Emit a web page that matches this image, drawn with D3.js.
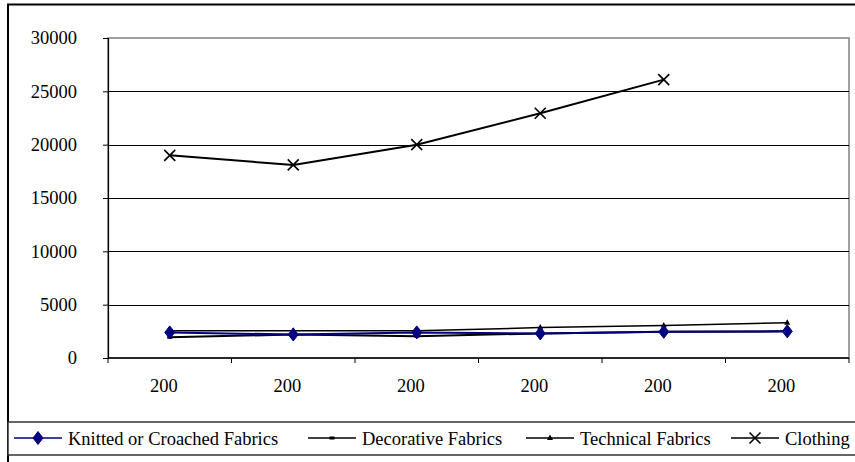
<!DOCTYPE html>
<html>
<head>
<meta charset="utf-8">
<script src="https://cdn.jsdelivr.net/npm/d3@7"></script>
<style>
  html, body { margin: 0; padding: 0; background: #fff; }
  svg { display: block; }
  text { font-family: "Liberation Serif", "Times New Roman", serif; fill: #000; }
</style>
</head>
<body>
<svg id="chart" width="855" height="462"></svg>
<script>
// Category labels along the x axis
const categories = ["200", "200", "200", "200", "200", "200"];

// Series values
const knitted    = [2400, 2200, 2400, 2300, 2450, 2500];
const decorative = [1950, 2200, 2050, 2300, 2450, 2500];
const technical  = [2550, 2550, 2550, 2850, 3050, 3300];
const clothing   = [19000, 18100, 20000, 22950, 26100, null];

// Y axis ticks
const yTicks = [0, 5000, 10000, 15000, 20000, 25000, 30000];

const seriesNames = ["Knitted or Croached Fabrics", "Decorative Fabrics", "Technical Fabrics", "Clothing"];

const svg = d3.select("#chart");
const plot = { left: 108, right: 849, top: 38, bottom: 358 };

const x = d3.scaleBand()
  .domain(d3.range(categories.length))
  .range([plot.left, plot.right])
  .paddingInner(0).paddingOuter(0);
const cx = i => x(i) + x.bandwidth() / 2;

const y = d3.scaleLinear()
  .domain([0, 30000])
  .range([plot.bottom, plot.top]);

// Outer chart frame (left and top edges)
svg.append("path")
  .attr("d", "M8,470 L8,4.5 L870,4.5")
  .attr("fill", "none")
  .attr("stroke", "#000")
  .attr("stroke-width", 2);

// Plot area border
svg.append("rect")
  .attr("x", plot.left).attr("y", y(30000))
  .attr("width", plot.right - plot.left).attr("height", plot.bottom - y(30000))
  .attr("fill", "none").attr("stroke", "#808080").attr("stroke-width", 1.5);

// Horizontal gridlines
svg.append("g").selectAll("line")
  .data(yTicks.filter(d => d > 0 && d < 30000))
  .join("line")
  .attr("x1", plot.left).attr("x2", plot.right)
  .attr("y1", d => Math.round(y(d)) + 0.5).attr("y2", d => Math.round(y(d)) + 0.5)
  .attr("stroke", "#000").attr("stroke-width", 1);

// Y axis
const yAxis = svg.append("g")
  .attr("transform", `translate(${plot.left},0)`)
  .call(d3.axisLeft(y).tickValues(yTicks).tickFormat(d3.format("d"))
    .tickSize(5).tickPadding(26));
yAxis.select(".domain").attr("stroke", "#000").attr("stroke-width", 1.2);
yAxis.selectAll(".tick line").attr("stroke", "#000");
yAxis.selectAll(".tick text")
  .style("font-family", '"Liberation Serif", serif')
  .style("font-size", "18.5px").attr("fill", "#000");

// X axis: line, boundary ticks, and centred labels
const xg = svg.append("g");
xg.append("line")
  .attr("x1", plot.left).attr("x2", plot.right)
  .attr("y1", plot.bottom).attr("y2", plot.bottom)
  .attr("stroke", "#000").attr("stroke-width", 1.5);
const bounds = d3.range(categories.length + 1).map(i => i < categories.length ? x(i) : x(i - 1) + x.bandwidth());
xg.selectAll("line.tk")
  .data(bounds)
  .join("line").attr("class", "tk")
  .attr("x1", d => d).attr("x2", d => d)
  .attr("y1", plot.bottom).attr("y2", plot.bottom + 5)
  .attr("stroke", "#000");
xg.selectAll("text")
  .data(categories)
  .join("text")
  .attr("x", (d, i) => cx(i) - 6)
  .attr("y", 392)
  .attr("text-anchor", "middle")
  .style("font-size", "18.5px")
  .text(d => d);

// Marker shapes
const markers = {
  diamond: (g, color) => g.append("path").attr("d", "M0,-6.5 L5,0 L0,6.5 L-5,0 Z").attr("fill", color).attr("stroke", color).attr("stroke-width", 1),
  dash: (g, color) => g.append("rect").attr("x", -2.5).attr("y", -1.5).attr("width", 5).attr("height", 3).attr("fill", color),
  triangle: (g, color) => g.append("path").attr("d", "M0,-3.5 L3,2 L-3,2 Z").attr("fill", color),
  cross: (g, color) => g.append("path").attr("d", "M-5.5,-5.5 L5.5,5.5 M-5.5,5.5 L5.5,-5.5").attr("stroke", color).attr("stroke-width", 1.6).attr("fill", "none")
};

const series = [
  { name: seriesNames[0], values: knitted, color: "#000080", width: 2, marker: "diamond" },
  { name: seriesNames[1], values: decorative, color: "#000", width: 2, marker: "dash" },
  { name: seriesNames[2], values: technical, color: "#000", width: 1.5, marker: "triangle" },
  { name: seriesNames[3], values: clothing, color: "#000", width: 2, marker: "cross" }
];

const line = d3.line()
  .defined(d => d != null)
  .x((d, i) => cx(i))
  .y(d => y(d));

// Draw lines from bottom series upward so the navy series sits visibly on top of the others
const drawOrder = [3, 2, 1, 0];
drawOrder.forEach(k => {
  const s = series[k];
  const g = svg.append("g");
  g.append("path")
    .attr("d", line(s.values))
    .attr("fill", "none")
    .attr("stroke", s.color)
    .attr("stroke-width", s.width)
    .attr("stroke-linejoin", "round");
  s.values.forEach((v, i) => {
    if (v == null) return;
    const mg = g.append("g").attr("transform", `translate(${cx(i)},${y(v)})`);
    markers[s.marker](mg, s.color);
  });
});

// Legend
const legend = svg.append("g");
legend.append("rect")
  .attr("x", 8).attr("y", 422).attr("width", 900).attr("height", 33)
  .attr("fill", "#fff").attr("stroke", "#333").attr("stroke-width", 1.5);
const legendX = [14, 308, 526, 731];
series.forEach((s, k) => {
  const gx = legendX[k];
  const gy = 438;
  const g = legend.append("g").attr("transform", `translate(${gx},${gy})`);
  g.append("line").attr("x1", 0).attr("x2", 48).attr("y1", 0).attr("y2", 0)
    .attr("stroke", s.color).attr("stroke-width", 1.5);
  const mg = g.append("g").attr("transform", "translate(24,0)");
  markers[s.marker](mg, s.color);
  g.append("text")
    .attr("x", 54).attr("y", 6.5)
    .style("font-size", "18.5px")
    .text(s.name);
});
</script>
</body>
</html>
